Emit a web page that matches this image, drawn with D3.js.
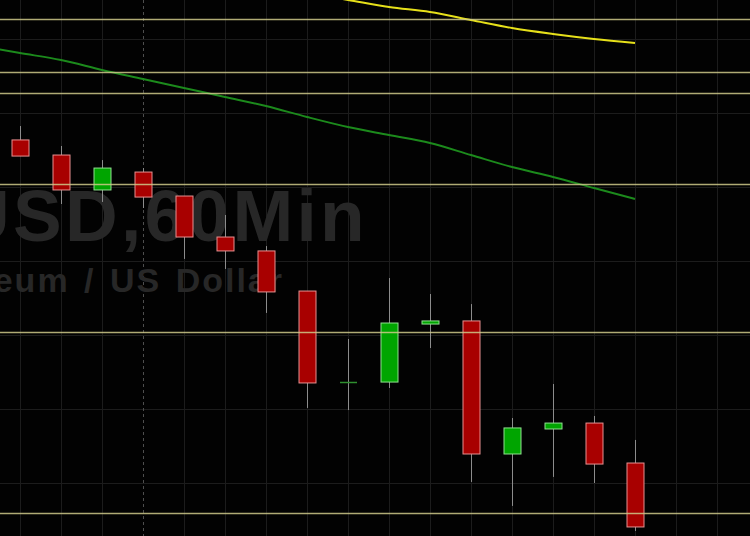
<!DOCTYPE html>
<html>
<head>
<meta charset="utf-8">
<script src="https://cdn.jsdelivr.net/npm/d3@7"></script>
<style>
  html, body { margin: 0; padding: 0; background: #000; }
  svg { display: block; }
</style>
</head>
<body>
<div id="chart"></div>
<script>
// ---- Data (ETHUSD, 60 min) ----
const candleIndex = [0, 1, 2, 3, 4, 5, 6, 7, 8, 9, 10, 11, 12, 13, 14, 15];
const opens  = [1303.18, 1302.16, 1299.80, 1301.01, 1299.39, 1296.62, 1295.68, 1292.97, 1286.82, 1286.82, 1290.74, 1290.95, 1281.96, 1283.65, 1284.05, 1281.35];
const highs  = [1304.12, 1302.77, 1301.82, 1301.28, 1299.39, 1298.11, 1296.01, 1292.97, 1289.73, 1293.85, 1292.77, 1292.09, 1284.39, 1286.69, 1284.53, 1282.91];
const lows   = [1302.09, 1298.85, 1298.99, 1298.58, 1295.14, 1294.46, 1291.49, 1285.07, 1284.93, 1286.42, 1289.12, 1280.07, 1278.45, 1280.41, 1280.00, 1276.76];
const closes = [1302.09, 1299.80, 1301.28, 1299.32, 1296.62, 1295.68, 1292.91, 1286.76, 1286.82, 1290.81, 1290.95, 1281.96, 1283.72, 1284.05, 1281.28, 1277.03];

// slow moving average (yellow), starts at candle 7
const slowMaIndex = [7, 8, 9, 10, 11, 12, 13, 14, 15];
const slowMa = [1313.11, 1312.64, 1312.16, 1311.82, 1311.28, 1310.74, 1310.34, 1310.00, 1309.73];

// fast moving average (green), starts one bar before first visible candle
const fastMaIndex = [-1, 0, 1, 2, 3, 4, 5, 6, 7, 8, 9, 10, 11, 12, 13, 14, 15];
const fastMa = [1309.53, 1309.05, 1308.58, 1307.91, 1307.30, 1306.69, 1306.08, 1305.47, 1304.73, 1304.05, 1303.51, 1302.97, 1302.16, 1301.35, 1300.68, 1299.93, 1299.19];

// horizontal technical levels
const levels = [1311.35, 1307.77, 1306.35, 1300.20, 1290.20, 1277.97];

// grid
const priceGridTicks = [1280, 1285, 1290, 1295, 1300, 1305, 1310];
const timeGridTicks = [0, 1, 2, 3, 4, 5, 6, 7, 8, 9, 10, 11, 12, 13, 14, 15, 16, 17];
const sessionBreak = 3;

const watermarkTitle = "ETHUSD,60Min";
const watermarkSubtitle = "Ethereum / US Dollar";

// ---- Layout ----
const W = 750, H = 536;
const svg = d3.select("#chart").append("svg")
  .attr("width", W).attr("height", H);

svg.append("rect").attr("width", W).attr("height", H).attr("fill", "#020202");

const x = d3.scaleLinear().domain([-1, 18]).range([-21, 758]);
const y = d3.scaleLinear().domain([1276.419, 1312.635]).range([H, 0]);

// grid
const grid = svg.append("g");
grid.selectAll("line.h").data(priceGridTicks).join("line")
  .attr("x1", 0).attr("x2", W)
  .attr("y1", d => Math.round(y(d)) + 0.5).attr("y2", d => Math.round(y(d)) + 0.5)
  .attr("stroke", "#1c1c1c").attr("stroke-width", 1);
grid.selectAll("line.v").data(timeGridTicks.filter(d => d !== sessionBreak)).join("line")
  .attr("y1", 0).attr("y2", H)
  .attr("x1", d => Math.round(x(d)) + 0.5).attr("x2", d => Math.round(x(d)) + 0.5)
  .attr("stroke", "#1c1c1c").attr("stroke-width", 1);
grid.append("line")
  .attr("y1", 0).attr("y2", H)
  .attr("x1", Math.round(x(sessionBreak)) + 0.5).attr("x2", Math.round(x(sessionBreak)) + 0.5)
  .attr("stroke", "#4e4e4e").attr("stroke-width", 1).attr("stroke-dasharray", "3,3");

// watermark
svg.append("text")
  .attr("x", 368).attr("y", 241)
  .attr("text-anchor", "end")
  .attr("font-family", "'Liberation Sans', Arial, sans-serif")
  .attr("font-weight", "bold")
  .attr("font-size", 73)
  .attr("letter-spacing", 3.3)
  .attr("fill", "#272727")
  .text(watermarkTitle);
svg.append("text")
  .attr("x", 284).attr("y", 292)
  .attr("text-anchor", "end")
  .attr("font-family", "'Liberation Sans', Arial, sans-serif")
  .attr("font-weight", "bold")
  .attr("font-size", 34)
  .attr("letter-spacing", 2)
  .attr("word-spacing", 3)
  .attr("fill", "#272727")
  .text(watermarkSubtitle);

// moving averages
const line = d3.line().x(d => x(d[0])).y(d => y(d[1])).curve(d3.curveMonotoneX);
svg.append("path")
  .attr("d", line(fastMaIndex.map((d, i) => [d, fastMa[i]])))
  .attr("fill", "none").attr("stroke", "#1c8a1c").attr("stroke-width", 2);
svg.append("path")
  .attr("d", line(slowMaIndex.map((d, i) => [d, slowMa[i]])))
  .attr("fill", "none").attr("stroke", "#e6e01a").attr("stroke-width", 2);

// candles
const candles = candleIndex.map((d, i) => ({
  i: d, o: opens[i], h: highs[i], l: lows[i], c: closes[i]
}));
const bw = 17;
const cg = svg.append("g");
cg.selectAll("line.wick").data(candles).join("line")
  .attr("x1", d => Math.round(x(d.i)) + 0.5).attr("x2", d => Math.round(x(d.i)) + 0.5)
  .attr("y1", d => y(d.h)).attr("y2", d => y(d.l))
  .attr("stroke", "#8c8c8c").attr("stroke-width", 1);

cg.selectAll("rect.body").data(candles.filter(d => d.o !== d.c)).join("rect")
  .attr("x", d => Math.round(x(d.i)) - bw / 2 + 0.5)
  .attr("width", bw)
  .attr("y", d => y(Math.max(d.o, d.c)))
  .attr("height", d => Math.max(2, Math.abs(y(d.o) - y(d.c))))
  .attr("fill", d => d.c > d.o ? "#00a500" : "#a80000")
  .attr("stroke", d => d.c > d.o ? "#8fe08f" : "#e79090")
  .attr("stroke-width", 1);

cg.selectAll("line.doji").data(candles.filter(d => d.o === d.c)).join("line")
  .attr("x1", d => Math.round(x(d.i)) - bw / 2 + 0.5)
  .attr("x2", d => Math.round(x(d.i)) + bw / 2 + 0.5)
  .attr("y1", d => Math.round(y(d.c)) + 0.5).attr("y2", d => Math.round(y(d.c)) + 0.5)
  .attr("stroke", "#2f8f2f").attr("stroke-width", 1.5);

// horizontal levels (on top)
svg.append("g").selectAll("line").data(levels).join("line")
  .attr("x1", 0).attr("x2", W)
  .attr("y1", d => Math.round(y(d)) + 0.5).attr("y2", d => Math.round(y(d)) + 0.5)
  .attr("stroke", "#cfc98a").attr("stroke-opacity", 0.85).attr("stroke-width", 1.5);
</script>
</body>
</html>
